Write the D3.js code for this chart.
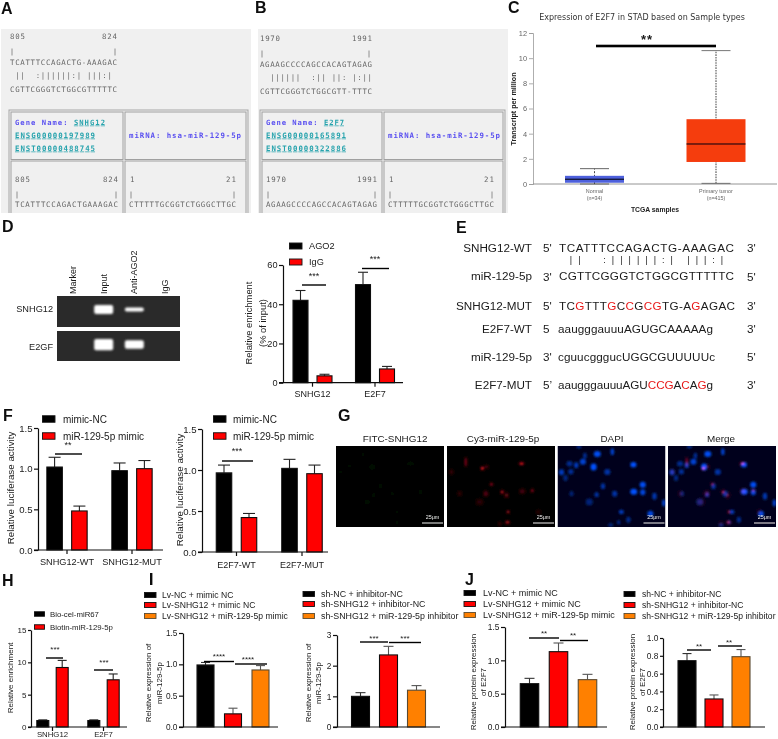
<!DOCTYPE html>
<html><head><meta charset="utf-8">
<script src="https://d3js.org/d3.v7.min.js"></script>
<style>
html,body{margin:0;padding:0;background:#fff}
svg{display:block}
text{font-family:"Liberation Sans",Arial,sans-serif;fill:#1a1a1a}
.mono{font-family:"DejaVu Sans Mono",monospace;white-space:pre}
.panel{font-weight:bold;font-size:16px;fill:#111}
</style></head><body>
<script>
// ---------- Data ----------
const aGene=["Gene Name: ","SNHG12","ENSG00000197989","ENST00000488745"];
const aSeqTop="TCATTTCCAGACTG-AAAGAC", aPairs=" ||  :||||||:| |||:| ", aSeqBot="CGTTCGGGTCTGGCGTTTTTC", aSeqFull="TCATTTCCAGACTGAAAGAC", aRange=["805","824"];
const bGene=["Gene Name: ","E2F7","ENSG00000165891","ENST00000322886"];
const bSeqTop="AGAAGCCCCAGCCACAGTAGAG", bPairs="  ||||||  :|| ||: |:||", bSeqBot="CGTTCGGGTCTGGCGTT-TTTC", bRange=["1970","1991"];
const miRna="miRNA: hsa-miR-129-5p", miSeq="CTTTTTGCGGTCTGGGCTTGC", miRange=["1","21"];

const cNames=["Normal","Primary tumor"], cN=["(n=34)","(n=415)"];
const cMin=[0,0.05], cQ1=[0.1,1.75], cMed=[0.38,3.18], cQ3=[0.65,5.15], cMax=[1.22,10.6];
const cTicks=[0,2,4,6,8,10,12];

const gelLanes=["Marker","Input","Anti-AGO2","IgG"], gelRows=["SNHG12","E2GF"];
const gelBands=[[0,1,0.45,0],[0,1.25,0.95,0]];

const dGroups=["SNHG12","E2F7"], dSeries=["AGO2","IgG"];
const dMeans=[[42,3.5],[50,7]], dTops=[[47,4.3],[56.3,8.3]], dTicks=[0,20,40,60];

const f1Groups=["SNHG12-WT","SNHG12-MUT"], f2Groups=["E2F7-WT","E2F7-MUT"], fSeries=["mimic-NC","miR-129-5p mimic"];
const f1Means=[[1.02,0.48],[0.975,1.0]], f1Tops=[[1.14,0.54],[1.07,1.1]];
const f2Means=[[0.965,0.42],[1.02,0.955]], f2Tops=[[1.06,0.47],[1.13,1.06]];
const fTicks=[0,0.5,1,1.5];

const hGroups=["SNHG12","E2F7"], hSeries=["Bio-cel-miR67","Biotin-miR-129-5p"];
const hMeans=[[1,9.2],[1,7.3]], hTops=[[1.1,10.3],[1.1,8.2]], hTicks=[0,5,10,15];

const lvSeries=["Lv-NC + mimic NC","Lv-SNHG12 + mimic NC","Lv-SNHG12 + miR-129-5p mimic"];
const shSeries=["sh-NC + inhibitor-NC","sh-SNHG12 + inhibitor-NC","sh-SNHG12 + miR-129-5p inhibitor"];
const i1Means=[0.99,0.21,0.91], i1Tops=[1.03,0.30,0.98];
const i2Means=[1.0,2.35,1.2], i2Tops=[1.12,2.63,1.35];
const j1Means=[0.65,1.13,0.71], j1Tops=[0.73,1.26,0.79];
const j2Means=[0.745,0.315,0.79], j2Tops=[0.825,0.36,0.87];

// E panel
const eLabels=["SNHG12-WT","miR-129-5p","SNHG12-MUT","E2F7-WT","miR-129-5p","E2F7-MUT"];
const eLeft=["5'","3'","5'","5","3'","5’"], eRight=["3'","5'","3'","3'","5'","3'"];
const eSeqs=["TCATTTCCAGACTG-AAAGAC","CGTTCGGGTCTGGCGTTTTTC","TCGTTTGCCGCGTG-AGAGAC","aaugggauuuAGUGCAAAAAg","cguucgggucUGGCGUUUUUc","aaugggauuuAGUCCGACAGg"];
const eRed=[[],[],[2,6,8,10,11,16],[],[],[13,14,15,17,19]];
const ePairs="||  :||||||:| |||:|";

// G panel: cells (x, y, rx, ry, brightness)
const gTitles=["FITC-SNHG12","Cy3-miR-129-5p","DAPI","Merge"];
const blueCells=[[64,3,6,3,.6],[164,17,4,8,.8],[119,24,8,7,.95],[82,29,4,7,.55],[36,53,7,6,.5],[56,58,5,7,.7],[76,47,7,7,.8],[108,63,7,8,1],[227,56,7,6,1],[12,79,6,7,.7],[40,77,6,6,.55],[149,78,7,7,.6],[24,96,5,7,.45],[136,121,5,7,.6],[255,116,7,7,.95],[228,137,8,7,1],[255,139,6,7,.85],[42,143,5,6,.4],[117,146,5,6,.6],[171,143,6,7,.6],[290,151,5,8,.65],[95,168,8,8,.4],[318,171,4,8,.8],[191,198,6,5,.7],[278,203,7,7,.85],[183,229,4,5,.5],[212,221,5,7,.5],[159,237,6,4,.45]];
const redCells=[[56,48,2,12,.7],[106,67,4,4,1],[223,53,6,3,1],[133,115,3,3,1],[165,138,4,4,.8],[178,148,5,6,.35],[255,134,3,3,.9],[183,198,3,3,.9],[181,229,5,4,.7],[116,143,6,7,.3],[38,143,5,6,.18],[13,78,5,6,.2],[98,168,9,8,.15],[225,136,7,6,.25],[273,198,6,6,.12],[158,233,4,5,.2],[118,62,5,4,.3]];
const greenCells=[[108,63,7,6,.5],[223,53,7,5,.5],[133,121,6,7,.4],[13,78,5,6,.3],[113,148,5,6,.35],[93,168,8,7,.3],[183,198,4,5,.3],[183,229,5,5,.3],[253,138,6,6,.3],[168,143,5,6,.25],[80,25,5,6,.2],[40,60,5,5,.2]];
const scaleLabel="25μm";

// ---------- Layout ----------
const W=778,H=739;
const svgEl=d3.select("body").append("svg").attr("width",W).attr("height",H);
const defs=svgEl.append("defs");
[["blur1",0.95],["blur2",1.6],["soft",0.3]].forEach(([id,s])=>{
  defs.append("filter").attr("id",id).attr("x","-50%").attr("y","-50%").attr("width","200%").attr("height","200%")
   .append("feGaussianBlur").attr("stdDeviation",s);
});
defs.append("filter").attr("id","pageSoft").attr("filterUnits","userSpaceOnUse").attr("x",0).attr("y",0).attr("width",W).attr("height",H)
  .append("feGaussianBlur").attr("stdDeviation",0.3);
const svg=svgEl.append("g").attr("filter","url(#pageSoft)");
svg.append("rect").attr("width",W).attr("height",H).attr("fill","#fff");
const blackC="#000",redC="#f00",orC="#ff8000";

function label(t,x,y){svg.append("text").attr("class","panel").attr("x",x).attr("y",y).text(t);}
[["A",1,14],["B",255,13],["C",508,13],["D",2,232],["E",456,233],["F",3,421],["G",338,421],["H",2,586],["J",465,585]].forEach(d=>label(...d));
svg.append("rect").attr("x",150).attr("y",573).attr("width",2.4).attr("height",12).attr("fill","#111");

// ---------- A & B ----------
function seqPanel(o){
  const clipId="clip"+o.id;
  defs.append("clipPath").attr("id",clipId).append("rect").attr("x",o.x).attr("y",29).attr("width",o.w).attr("height",184);
  const g=svg.append("g").attr("clip-path",`url(#${clipId})`).append("g");
  g.append("rect").attr("x",o.x).attr("y",29).attr("width",o.w).attr("height",186).attr("fill","#f0f0f0");
  const mono=(t,x,y,len,col,anchor)=>{const e=g.append("text").attr("class","mono").attr("x",x).attr("y",y).attr("font-size",7.4).style("fill",col||"#666").attr("text-anchor",anchor||"start").text(t);
    if(len)e.attr("textLength",len).attr("lengthAdjust","spacing");return e;};
  const tick=(x,y)=>g.append("line").attr("x1",x).attr("x2",x).attr("y1",y-3.5).attr("y2",y+3.5).attr("stroke","#777").attr("stroke-width",.8);
  const rng=(t,x,y,anchor)=>mono(t,x,y,t.length*5,null,anchor);
  // upper alignment
  rng(o.range[0],o.sx,o.ty);rng(o.range[1],o.sx2,o.ty,"end");
  tick(o.t1,o.ty+13);tick(o.t2,o.ty+13);
  mono(o.top,o.sx,o.ty+26,o.sx2-o.sx);mono(o.pairs,o.sx,o.ty+39,o.sx2-o.sx);mono(o.bot,o.sx,o.ty+53,o.sx2-o.sx);
  // table
  const cw=o.cells;
  g.append("rect").attr("x",o.tx).attr("y",110).attr("width",o.tw).attr("height",120).attr("fill","none").attr("stroke","#a5a5a5").attr("stroke-width",1);
  [[cw[0],112,cw[1]-cw[0],47.5],[cw[2],112,cw[3]-cw[2],47.5],[cw[0],161,cw[1]-cw[0],60],[cw[2],161,cw[3]-cw[2],60]].forEach(r=>
    g.append("rect").attr("x",r[0]).attr("y",r[1]).attr("width",r[2]).attr("height",r[3]).attr("fill","none").attr("stroke","#a0a0a0").attr("stroke-width",1));
  const blue="#5a50f0",teal="#27a3ad";
  const hx=cw[0]+4;
  const gt=g.append("text").attr("class","mono").attr("x",hx).attr("y",124.5).attr("font-size",7.2).attr("font-weight","bold").attr("textLength",o.geneLen).attr("lengthAdjust","spacing");
  gt.append("tspan").style("fill",blue).text(o.gene[0]);
  gt.append("tspan").style("fill",teal).attr("text-decoration","underline").text(o.gene[1]);
  [137.5,150.5].forEach((y,i)=>mono(o.gene[2+i],hx,y,80,teal).attr("font-weight","bold").attr("text-decoration","underline"));
  mono(miRna,cw[2]+4,137.5,112,blue).attr("font-weight","bold");
  // lower row
  rng(o.range[0],hx,182);rng(o.range[1],o.lx2,182,"end");
  tick(hx+2,195);tick(o.lx2-2,195);
  mono(o.full,hx,207,o.lx2-hx);
  rng(miRange[0],cw[2]+5,182);rng(miRange[1],o.rx2,182,"end");
  tick(cw[2]+6,195);tick(o.rx2-2,195);
  mono(miSeq,cw[2]+4,207,o.rx2-cw[2]-4);
}
seqPanel({id:"A",x:1,w:250,range:aRange,sx:10,sx2:117,ty:39,t1:12,t2:115,top:aSeqTop,pairs:aPairs,bot:aSeqBot,tx:9,tw:239,cells:[11,123,125,246],gene:aGene,geneLen:90,lx2:118,rx2:236,full:aSeqFull});
seqPanel({id:"B",x:258,w:250,range:bRange,sx:260,sx2:372,ty:41,t1:262,t2:369,top:bSeqTop,pairs:bPairs,bot:bSeqBot,tx:260,tw:245,cells:[262,382,384,503],gene:bGene,geneLen:78,lx2:377,rx2:494,full:bSeqTop});

// ---------- C ----------
(function(){
  const y=d3.scaleLinear().domain([0,12]).range([184,33]);
  const x=d3.scalePoint().domain(cNames).range([594.5,716]);
  const g=svg.append("g");
  g.append("text").attr("x",642).attr("y",20).attr("text-anchor","middle").attr("font-size",8).style("font-family","'DejaVu Sans',sans-serif").style("fill","#333").text("Expression of E2F7 in STAD based on Sample types");
  const ax=g.append("g").attr("transform","translate(533,0)").call(d3.axisLeft(y).tickValues(cTicks).tickSize(4).tickPadding(2).tickFormat(d3.format("d")));
  ax.selectAll("text").attr("font-size",7.4).style("fill","#666");
  ax.selectAll("line,path").attr("stroke","#999").attr("stroke-width",.8);
  g.append("line").attr("x1",533).attr("x2",777).attr("y1",y(0)).attr("y2",y(0)).attr("stroke","#888").attr("stroke-width",.9);
  cNames.forEach((c,i)=>{
    const cx=x(c),hw=29.5,cap=14.5;
    g.append("line").attr("x1",cx).attr("x2",cx).attr("y1",y(cMin[i])).attr("y2",y(cMax[i])).attr("stroke",i?"#777":"#333").attr("stroke-width",i?1.4:.9).attr("stroke-dasharray",i?"1.6,1":"2,1.6");
    [cMin[i],cMax[i]].forEach(v=>g.append("line").attr("x1",cx-cap).attr("x2",cx+cap).attr("y1",y(v)).attr("y2",y(v)).attr("stroke",i?"#666":"#555").attr("stroke-width",.9));
    g.append("rect").attr("x",cx-hw).attr("width",2*hw).attr("y",y(cQ3[i])).attr("height",y(cQ1[i])-y(cQ3[i])).attr("fill",i?"#f53c10":"#4d60dc");
    g.append("line").attr("x1",cx-hw).attr("x2",cx+hw).attr("y1",y(cMed[i])).attr("y2",y(cMed[i])).attr("stroke","#000").attr("stroke-width",1);
    g.append("text").attr("x",cx).attr("y",193).attr("text-anchor","middle").attr("font-size",5.4).style("fill","#666").text(c);
    g.append("text").attr("x",cx).attr("y",199.5).attr("text-anchor","middle").attr("font-size",5.4).style("fill","#666").text(cN[i]);
  });
  g.append("rect").attr("x",596).attr("y",44.7).attr("width",120).attr("height",2.6).attr("fill","#000");
  g.append("text").attr("x",647).attr("y",44).attr("text-anchor","middle").attr("font-size",13).attr("font-weight","bold").attr("letter-spacing",1).text("**");
  g.append("text").attr("x",513).attr("y",109).attr("text-anchor","middle").attr("dominant-baseline","central").attr("transform","rotate(-90 513 109)").attr("font-size",7.2).attr("font-weight","bold").style("fill","#222").text("Transcript per million");
  g.append("text").attr("x",655).attr("y",211.5).attr("text-anchor","middle").attr("font-size",6.8).attr("font-weight","bold").style("fill","#222").text("TCGA samples");
})();

// ---------- D gel ----------
(function(){
  const xl=d3.scalePoint().domain(gelLanes).range([73,165]);
  const rowY=d3.scalePoint().domain(gelRows).range([309,347]);
  const rowBox=[[296,31],[331,30]];
  const g=svg.append("g");
  gelRows.forEach((r,i)=>{
    g.append("rect").attr("x",57).attr("width",123).attr("y",rowBox[i][0]).attr("height",rowBox[i][1]).attr("fill","#2a2a2a");
    g.append("text").attr("x",53).attr("y",rowY(r)).attr("dominant-baseline","central").attr("text-anchor","end").attr("font-size",9.2).text(r);
    gelLanes.forEach((l,j)=>{
      const v=gelBands[i][j]; if(!v)return;
      g.append("rect").attr("x",xl(l)-9.5).attr("width",19).attr("y",rowY(r)-(i?2.5:-0.4)-4.5*v).attr("height",9*v).attr("rx",2).attr("fill","#fff").attr("filter","url(#blur1)");
    });
  });
  gelLanes.forEach(l=>g.append("text").attr("transform",`translate(${xl(l)+3},294) rotate(-90)`).attr("font-size",9).text(l));
})();

// ---------- Generic bar chart ----------
function barChart(o){
  const y=d3.scaleLinear().domain(o.domain).range([o.y0,o.y1]);
  const xG=d3.scalePoint().domain(o.groups).range(o.centers);
  const xS=d3.scalePoint().domain(o.series).range([-o.offset,o.offset]);
  const g=svg.append("g");
  const fs=o.fs||10;
  const ax=g.append("g").attr("transform",`translate(${o.x0},0)`).call(d3.axisLeft(y).tickValues(o.ticks).tickSize(o.tick||4).tickSizeOuter(0).tickPadding(1.5).tickFormat(d3.format(o.fmt||"d")));
  ax.selectAll("text").attr("font-size",fs).style("fill","#1a1a1a");
  ax.selectAll("line,path").attr("stroke","#111").attr("stroke-width",1.2);
  o.groups.forEach((gr,i)=>{
    o.series.forEach((s,j)=>{
      const cx=xG(gr)+xS(s);
      const col=o.colors[j];
      g.append("line").attr("x1",cx).attr("x2",cx).attr("y1",y(o.means[i][j])).attr("y2",y(o.tops[i][j])).attr("stroke",o.errCol?o.errCol[j]:"#222").attr("stroke-width",1.1);
      g.append("line").attr("x1",cx-o.cap).attr("x2",cx+o.cap).attr("y1",y(o.tops[i][j])).attr("y2",y(o.tops[i][j])).attr("stroke",o.errCol?o.errCol[j]:"#222").attr("stroke-width",1.1);
      g.append("rect").attr("x",cx-o.bw/2).attr("width",o.bw).attr("y",y(o.means[i][j])).attr("height",y(0)-y(o.means[i][j])).attr("fill",col).attr("stroke",j==2?"#5a4a30":"#111").attr("stroke-width",1.1);
    });
  });
  g.append("line").attr("x1",o.x0-(o.tick||4)).attr("x2",o.x1).attr("y1",y(0)).attr("y2",y(0)).attr("stroke","#111").attr("stroke-width",1.2);
  if(o.xLabelY){
    o.groups.forEach(gr=>{
      g.append("line").attr("x1",xG(gr)).attr("x2",xG(gr)).attr("y1",y(0)).attr("y2",y(0)+4).attr("stroke","#111").attr("stroke-width",1.2);
      g.append("text").attr("x",xG(gr)).attr("y",o.xLabelY).attr("dominant-baseline","central").attr("text-anchor","middle").attr("font-size",o.xfs||fs).text(gr);
    });
  }
  (o.yLabels||[]).forEach(([t,x])=>g.append("text").attr("transform",`translate(${x},${o.yLabelC}) rotate(-90)`).attr("dominant-baseline","central").attr("text-anchor","middle").attr("font-size",o.yfs||fs).text(t));
  (o.sig||[]).forEach(([a,b,ly,t,sx,sy])=>{
    g.append("line").attr("x1",a).attr("x2",b).attr("y1",ly).attr("y2",ly).attr("stroke","#000").attr("stroke-width",1.4);
    g.append("text").attr("x",sx).attr("y",sy+(o.starShift||4)).attr("text-anchor","middle").attr("font-size",o.starFs||9).text(t);
  });
  if(o.legend){
    const L=o.legend;
    o.series.forEach((s,j)=>{
      g.append("rect").attr("x",L.x).attr("width",L.w).attr("y",L.ys[j]-L.h/2).attr("height",L.h).attr("fill",o.colors[j]).attr("stroke",j==2?"#5a4a30":"#111").attr("stroke-width",.9);
      g.append("text").attr("x",L.tx).attr("y",L.ys[j]).attr("dominant-baseline","central").attr("font-size",L.fs).text(s);
    });
  }
}
const two=[blackC,redC], three=[blackC,redC,orC];

barChart({x0:283,x1:403,y0:382.7,y1:265,domain:[0,60],ticks:dTicks,groups:dGroups,series:dSeries,means:dMeans,tops:dTops,colors:two,centers:[312.5,375],offset:12,bw:15,cap:5,fs:9.2,xLabelY:393.5,xfs:9,
 yLabels:[["Relative enrichment",248],["(% of input)",262]],yLabelC:323,yfs:9.4,
 sig:[[302,326,285,"***",314,275],[362,389,268.5,"***",375,258]],legend:{x:289.5,w:12.5,h:6,ys:[246,262],tx:309,fs:9.2}});

barChart({x0:38,x1:163,y0:550,y1:428,domain:[0,1.5],fmt:".1f",ticks:fTicks,groups:f1Groups,series:fSeries,means:f1Means,tops:f1Tops,colors:two,centers:[67,132],offset:12.4,bw:15.5,cap:6,fs:9.6,xLabelY:562,xfs:9.2,
 yLabels:[["Relative luciferase activity",10]],yLabelC:488,yfs:9.8,
 sig:[[55,82,454,"**",68,444]],legend:{x:42.5,w:12.5,h:6.5,ys:[419,436],tx:63,fs:10}});

barChart({x0:202,x1:328,y0:552,y1:429,domain:[0,1.5],fmt:".1f",ticks:fTicks,groups:f2Groups,series:fSeries,means:f2Means,tops:f2Tops,colors:two,centers:[236.5,302],offset:12.5,bw:15.5,cap:6,fs:9.6,xLabelY:565,xfs:9,
 yLabels:[["Relative luciferase activity",179]],yLabelC:490,yfs:9.8,
 sig:[[222,253,461,"***",237,450]],legend:{x:213.5,w:12.5,h:6.5,ys:[419,436],tx:233,fs:10}});

barChart({x0:31,x1:127,y0:727,y1:630,domain:[0,15],ticks:hTicks,groups:hGroups,series:hSeries,means:hMeans,tops:hTops,colors:two,centers:[52.5,103.5],offset:9.7,bw:12,cap:4.5,fs:8,xLabelY:734,xfs:7.8,tick:3,
 yLabels:[["Relative enrichment",10]],yLabelC:678,yfs:8,starFs:8,starShift:3.5,
 sig:[[46,63,658,"***",55,648],[94,113,670,"***",104,661]],legend:{x:34.5,w:10,h:4.5,ys:[614,627],tx:50,fs:7.8}});

const single=(cats,m,t)=>({groups:["all"],series:cats,means:[m],tops:[t]});
barChart({...single(lvSeries,i1Means,i1Tops),x0:183,x1:278,y0:727,y1:633,domain:[0,1.5],fmt:".1f",ticks:[0,.5,1,1.5],colors:three,centers:[233,233],offset:27.5,bw:17,cap:4.5,fs:8.3,
 yLabels:[["Relative expression of",148],["miR-129-5p",159]],yLabelC:683,yfs:8,starFs:8,starShift:3.5,errCol:["#333","#555","#555"],
 sig:[[204,234,661.5,"****",219,655],[235,267,664,"****",248,658]],legend:{x:144.5,w:11.5,h:5,ys:[595,605,616],tx:162,fs:8.6}});
barChart({...single(shSeries,i2Means,i2Tops),x0:337,x1:440,y0:727,y1:635,domain:[0,3],ticks:[0,1,2,3],colors:three,centers:[388.5,388.5],offset:28,bw:18,cap:5,fs:8.4,
 yLabels:[["Relative expression of",308],["miR-129-5p",318]],yLabelC:683,yfs:8,starFs:8,starShift:3.5,errCol:["#333","#555","#555"],
 sig:[[360,388,642,"***",374,637],[389,421,642.5,"***",405,637.5]],legend:{x:303,w:11.5,h:5,ys:[594,604,616],tx:321,fs:8.85}});
barChart({...single(lvSeries,j1Means,j1Tops),x0:505,x1:607,y0:727,y1:627,domain:[0,1.5],fmt:".1f",ticks:[0,.5,1,1.5],colors:three,centers:[558.5,558.5],offset:29,bw:18.5,cap:5,fs:8.4,
 yLabels:[["Relative protein expression",473],["of E2F7",483]],yLabelC:682,yfs:8,starFs:8,starShift:3.5,errCol:["#333","#555","#555"],
 sig:[[529,559,638,"**",544,632],[560,588,640.5,"**",573,634]],legend:{x:464,w:11.5,h:5,ys:[593,604,615],tx:483,fs:9}});
barChart({...single(shSeries,j2Means,j2Tops),x0:663,x1:765,y0:727,y1:638,domain:[0,1],fmt:".1f",ticks:[0,.2,.4,.6,.8,1],colors:three,centers:[714,714],offset:27,bw:18,cap:4.5,fs:8.4,tick:3,
 yLabels:[["Relative protein expression",632],["of E2F7",642.5]],yLabelC:682,yfs:8,starFs:8,starShift:3.5,errCol:["#333","#555","#555"],
 sig:[[687,711,650,"**",699,645],[718,742,646,"**",729,641]],legend:{x:624,w:11,h:5,ys:[594,605,616],tx:642,fs:8.6}});

// ---------- E ----------
(function(){
  const ys=[247,275,305,328,356,384], g=svg.append("g"), fs=11.7;
  const lens=[175,175,176,155,157,155];
  const seqX=[559,559,559,558,558,558];
  const sideY=[247,276,305,328,356,384];
  eLabels.forEach((t,i)=>{
    g.append("text").attr("x",532).attr("y",ys[i]).attr("dominant-baseline","central").attr("text-anchor","end").attr("font-size",fs).text(t);
    g.append("text").attr("x",543).attr("y",sideY[i]).attr("dominant-baseline","central").attr("font-size",fs).text(eLeft[i]);
    g.append("text").attr("x",747).attr("y",sideY[i]).attr("dominant-baseline","central").attr("font-size",fs).text(eRight[i]);
    const e=g.append("text").attr("x",seqX[i]).attr("y",ys[i]).attr("dominant-baseline","central").attr("font-size",fs).attr("textLength",lens[i]).attr("lengthAdjust","spacing");
    Array.from(eSeqs[i]).forEach((c,k)=>e.append("tspan").style("fill",eRed[i].includes(k)?"#e81818":"#1a1a1a").text(c));
  });
  const px=d3.scaleLinear().domain([0,ePairs.length-1]).range([571,722]);
  Array.from(ePairs).forEach((c,k)=>{ if(c!==" ")g.append("text").attr("x",px(k)).attr("y",260).attr("dominant-baseline","central").attr("text-anchor","middle").attr("font-size",9).text(c); });
})();

// ---------- G ----------
(function(){
  const xs=[336,447,557.5,668], cx=[395,503,612,721], pw=108, top=446, ph=81;
  const sx=d3.scaleLinear().domain([0,323]).range([0,pw]), sy=d3.scaleLinear().domain([0,243]).range([0,ph]);
  const bgs=["#020302","#040000","#02021c","#05021c"];
  xs.forEach((x0,i)=>{
    svg.append("text").attr("x",cx[i]).attr("y",438).attr("dominant-baseline","central").attr("text-anchor","middle").attr("font-size",9.9).text(gTitles[i]);
    defs.append("clipPath").attr("id","cp"+i).append("rect").attr("x",x0).attr("y",top).attr("width",pw).attr("height",ph);
    const g=svg.append("g").attr("clip-path",`url(#cp${i})`);
    g.append("rect").attr("x",x0).attr("y",top).attr("width",pw).attr("height",ph).attr("fill",bgs[i]);
    const draw=(arr,col,blur,grow)=>{
      const l=g.append("g").attr("filter",`url(#${blur})`).style("mix-blend-mode","screen");
      arr.forEach(c=>l.append("ellipse").attr("cx",x0+sx(c[0])).attr("cy",top+sy(c[1])).attr("rx",sx(c[2])*grow).attr("ry",sy(c[3])*grow).attr("fill",col).attr("opacity",c[4]));
    };
    if(i===0)draw(greenCells,"#081f0b","blur2",1);
    if(i===2||i===3)draw(blueCells,"#0650ff","blur1",1.3);
    if(i===1||i===3)draw(redCells,"#ff1020","blur1",1.15);
    g.append("line").attr("x1",x0+86).attr("x2",x0+107).attr("y1",top+77).attr("y2",top+77).attr("stroke","#ddd").attr("stroke-width",1.1);
    g.append("text").attr("x",x0+96.5).attr("y",top+73).attr("text-anchor","middle").attr("font-size",5.4).style("fill","#eee").text(scaleLabel);
  });
})();
</script></body></html>
